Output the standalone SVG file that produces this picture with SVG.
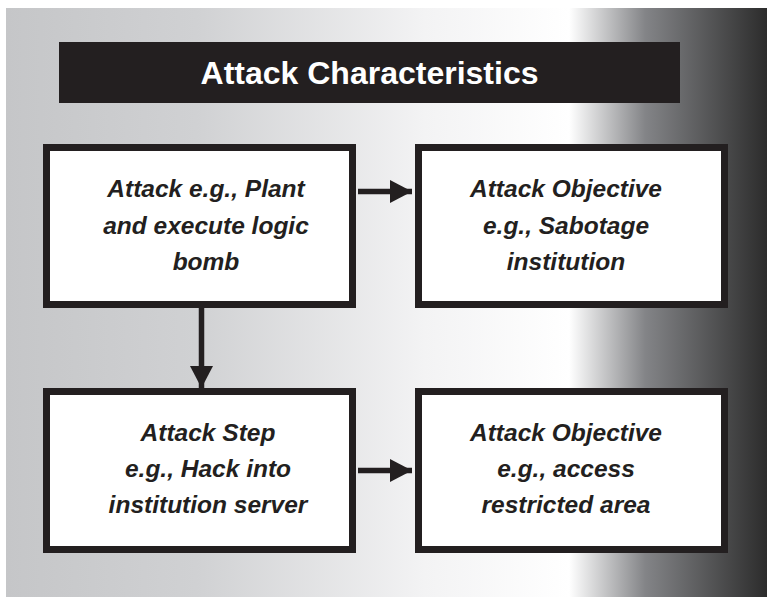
<svg xmlns="http://www.w3.org/2000/svg" width="767" height="597" viewBox="0 0 767 597">
  <defs>
    <linearGradient id="panelShade" x1="6" y1="0" x2="767" y2="0" gradientUnits="userSpaceOnUse">
      <stop offset="0" stop-color="#c5c6c8"/>
      <stop offset="0.25" stop-color="#d0d1d3"/>
      <stop offset="0.55" stop-color="#f3f3f4"/>
      <stop offset="0.74" stop-color="#ffffff"/>
      <stop offset="0.84" stop-color="#838487"/>
      <stop offset="1" stop-color="#2c2c2c"/>
    </linearGradient>
    <marker id="head" viewBox="0 0 22 23" refX="22" refY="11.5" markerWidth="22" markerHeight="23" markerUnits="userSpaceOnUse" orient="auto">
      <path d="M0,0 L22,11.5 L0,23 Z" fill="#231f20"/>
    </marker>
    <style>
      .box { fill: #ffffff; stroke: #231f20; stroke-width: 7; }
      .label { font-family: "Liberation Sans", Arial, sans-serif; font-size: 24.5px; font-weight: bold; font-style: italic; fill: #231f20; text-anchor: middle; }
      .title { font-family: "Liberation Sans", Arial, sans-serif; font-size: 32px; font-weight: bold; fill: #ffffff; text-anchor: middle; }
      .link { stroke: #231f20; stroke-width: 5.5; fill: none; }
    </style>
  </defs>

  <!-- background panel -->
  <rect x="6" y="8" width="761" height="589" fill="url(#panelShade)"/>

  <!-- heading bar -->
  <g id="title">
    <rect x="59" y="42" width="621" height="61" fill="#231f20"/>
    <text class="title" x="369.5" y="84">Attack Characteristics</text>
  </g>

  <g id="attack">
    <rect class="box" x="46.5" y="147.5" width="306" height="157"/>
    <text class="label" x="206" y="197">Attack e.g., Plant</text>
    <text class="label" x="206" y="233.5">and execute logic</text>
    <text class="label" x="206" y="270">bomb</text>
  </g>

  <g id="objective-sabotage">
    <rect class="box" x="418.5" y="147.5" width="306" height="157"/>
    <text class="label" x="566" y="197">Attack Objective</text>
    <text class="label" x="566" y="233.5">e.g., Sabotage</text>
    <text class="label" x="566" y="270">institution</text>
  </g>

  <g id="attack-step">
    <rect class="box" x="46.5" y="391.5" width="306" height="158"/>
    <text class="label" x="208" y="441">Attack Step</text>
    <text class="label" x="208" y="477">e.g., Hack into</text>
    <text class="label" x="208" y="513">institution server</text>
  </g>

  <g id="objective-access">
    <rect class="box" x="418.5" y="391.5" width="306" height="158"/>
    <text class="label" x="566" y="441">Attack Objective</text>
    <text class="label" x="566" y="477">e.g., access</text>
    <text class="label" x="566" y="513">restricted area</text>
  </g>

  <!-- connectors -->
  <g id="connectors">
    <line class="link" x1="358" y1="191.5" x2="412" y2="191.5" marker-end="url(#head)"/>
    <line class="link" x1="201.5" y1="308" x2="201.5" y2="388" marker-end="url(#head)"/>
    <line class="link" x1="358" y1="470.5" x2="412" y2="470.5" marker-end="url(#head)"/>
  </g>
</svg>
